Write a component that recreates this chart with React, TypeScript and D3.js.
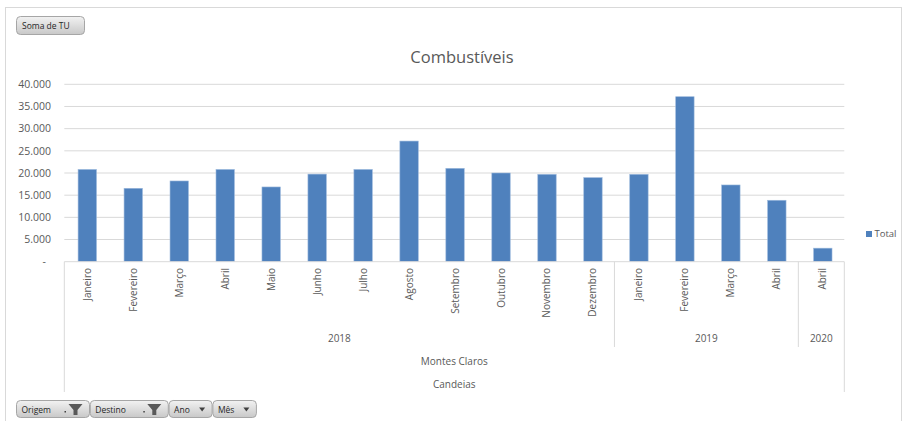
import React from "react";
import * as d3 from "d3";

const months = [
  "Janeiro", "Fevereiro", "Março", "Abril", "Maio", "Junho", "Julho", "Agosto",
  "Setembro", "Outubro", "Novembro", "Dezembro",
  "Janeiro", "Fevereiro", "Março", "Abril",
  "Abril",
];
const years = [
  "2018", "2018", "2018", "2018", "2018", "2018", "2018", "2018",
  "2018", "2018", "2018", "2018",
  "2019", "2019", "2019", "2019",
  "2020",
];
const values = [
  20800, 16550, 18200, 20800, 16850, 19750, 20800, 27200,
  21050, 20000, 19700, 18950,
  19700, 37200, 17300, 13850,
  3050,
];
const destino = "Montes Claros";
const origem = "Candeias";
const yTicks = [0, 5000, 10000, 15000, 20000, 25000, 30000, 35000, 40000];
const title = "Combustíveis";
const seriesName = "Total";
const fieldButtons = [
  { label: "Origem", kind: "filter" },
  { label: "Destino", kind: "filter" },
  { label: "Ano", kind: "arrow" },
  { label: "Mês", kind: "arrow" },
];

const W = 904;
const H = 421;
const left = 64.3;
const right = 845.8;
const top = 84.3;
const bottom = 261.7;
const FONT = "'Open Sans', sans-serif";
const TXT = "#595959";
const GRID = "#d9d9d9";
const BAR = "#4f81bd";

const fmt = (v: number) => (v === 0 ? "-" : d3.format(",")(v).replace(/,/g, "."));

export default function App() {
  const idx = values.map((_, i) => String(i));
  const x = d3.scaleBand<string>().domain(idx).range([left, right]).paddingInner(0.6).paddingOuter(0.3);
  const y = d3.scaleLinear().domain([0, 40000]).range([bottom, top]);
  const step = x.step();
  const edge = (i: number) => left + step * i - 1.5; // boundary before category i

  const groups: { year: string; start: number; end: number }[] = [];
  years.forEach((yr, i) => {
    const g = groups[groups.length - 1];
    if (g && g.year === yr) g.end = i;
    else groups.push({ year: yr, start: i, end: i });
  });

  const yearRowY = 342;
  const destRowY = 365;
  const origRowY = 388;
  const axisRight = right - 1.5;

  let bx = 16.5;
  const btnWidths = [73, 78, 43, 43.5];

  return (
    <svg
      width={W}
      height={H}
      style={{ position: "absolute", left: 0, top: 0, display: "block", background: "#fff" }}
      fontFamily={FONT}
    >
      <defs>
        <linearGradient id="btn" x1="0" y1="0" x2="0" y2="1">
          <stop offset="0" stopColor="#f2f2f2" />
          <stop offset="1" stopColor="#c8c8c8" />
        </linearGradient>
      </defs>
      <rect x={5.5} y={7.5} width={896} height={420} fill="#fff" stroke="#d9d9d9" />

      {/* Soma de TU button */}
      <rect x={16.5} y={16.5} width={68} height={18} rx={4} fill="url(#btn)" stroke="#a6a6a6" />
      <text x={22} y={29} fontSize={8.5} fill="#262626">Soma de TU</text>

      {/* title */}
      <text x={462} y={63} textAnchor="middle" fontSize={16.5} fill={TXT}>{title}</text>

      {/* gridlines and y labels */}
      {yTicks.map((t) => (
        <g key={t}>
          {t > 0 && <line x1={left} x2={axisRight} y1={y(t)} y2={y(t)} stroke={GRID} strokeWidth={1} />}
          <text
            x={t === 0 ? 46 : 51}
            y={y(t)}
            dy="0.35em"
            textAnchor="end"
            fontSize={10.5}
            fill={TXT}
          >
            {fmt(t)}
          </text>
        </g>
      ))}

      {/* bars */}
      {values.map((v, i) => (
        <rect
          key={i}
          x={x(String(i))!}
          y={y(v)}
          width={x.bandwidth()}
          height={y(0) - y(v)}
          fill={BAR}
          stroke="#9bb8dc"
          strokeWidth={0.6}
        />
      ))}

      {/* category axis */}
      <line x1={left} x2={axisRight} y1={bottom} y2={bottom} stroke={GRID} />
      <line x1={left} x2={left} y1={bottom} y2={392} stroke={GRID} />
      <line x1={axisRight} x2={axisRight} y1={bottom} y2={392} stroke={GRID} />
      {groups.slice(1).map((g) => (
        <line key={g.year} x1={edge(g.start)} x2={edge(g.start)} y1={bottom} y2={347} stroke={GRID} />
      ))}

      {months.map((m, i) => {
        const cx = x(String(i))! + x.bandwidth() / 2;
        return (
          <text
            key={i}
            transform={`translate(${cx + 3.5},268) rotate(-90)`}
            textAnchor="end"
            fontSize={10}
            fill={TXT}
          >
            {m}
          </text>
        );
      })}

      {groups.map((g, gi) => (
        <text
          key={g.year}
          x={((gi === 0 ? left : edge(g.start)) + (gi === groups.length - 1 ? axisRight : edge(g.end + 1))) / 2}
          y={yearRowY}
          textAnchor="middle"
          fontSize={10}
          fill={TXT}
        >
          {g.year}
        </text>
      ))}
      <text x={(left + axisRight) / 2} y={destRowY} textAnchor="middle" fontSize={10} fill={TXT}>{destino}</text>
      <text x={(left + axisRight) / 2} y={origRowY} textAnchor="middle" fontSize={10} fill={TXT}>{origem}</text>

      {/* legend */}
      <rect x={866} y={231} width={6} height={6} fill={BAR} />
      <text x={874.5} y={234} dy="0.35em" fontSize={9.5} fill={TXT}>{seriesName}</text>

      {/* field buttons */}
      {fieldButtons.map((b, i) => {
        const w = btnWidths[i];
        const x0 = bx;
        bx += w + 0.8;
        return (
          <g key={b.label}>
            <rect x={x0} y={400.5} width={w} height={17} rx={4} fill="url(#btn)" stroke="#a6a6a6" />
            <text x={x0 + 5} y={412.5} fontSize={8.5} fill="#262626">{b.label}</text>
            {b.kind === "filter" ? (
              <g>
                <rect x={x0 + w - 25} y={411} width={1.5} height={1.5} fill="#404040" />
                <path d={`M${x0 + w - 21},404 h14 l-5,6 v5 h-4 v-5 z`} fill="#595959" />
              </g>
            ) : (
              <path d={`M${x0 + w - 13},407.5 h6 l-3,4 z`} fill="#404040" />
            )}
          </g>
        );
      })}
    </svg>
  );
}
